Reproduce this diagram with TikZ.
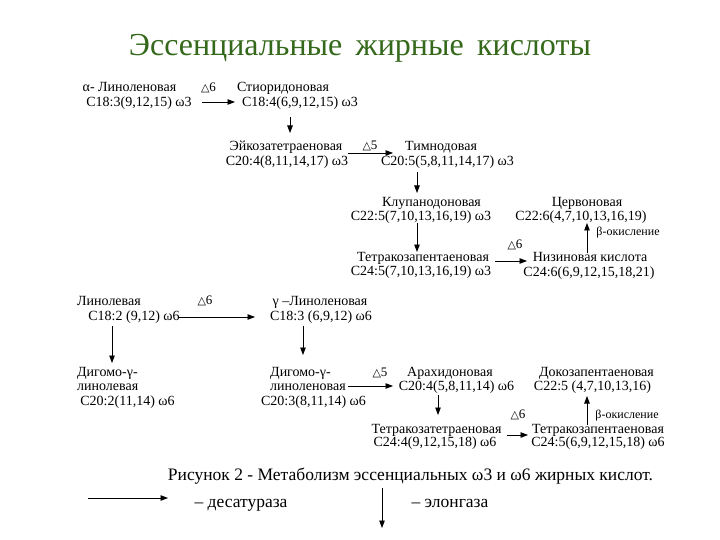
\documentclass[tikz,border=0pt]{standalone}
\usepackage{fontspec}
\setmainfont{Liberation Serif}
\newfontfamily\djv{DejaVu Sans}
\usetikzlibrary{arrows.meta}
\definecolor{titlegreen}{RGB}{52,104,26}
\newcommand{\tri}{{\djv\fontsize{11}{12}\selectfont △}}
\tikzset{
  tx/.style={inner sep=0pt, font=\fontsize{14}{16}\selectfont, text height=10.5pt, text depth=3.5pt},
  txl/.style={tx, anchor=west},
  dl/.style={inner sep=0pt, font=\fontsize{13}{14}\selectfont},
  lg/.style={inner sep=0pt, font=\fontsize{17.5}{20}\selectfont, text height=12.5pt, text depth=4.5pt},
  arr/.style={-{Triangle[length=7.5pt,width=5.5pt]}, line width=0.8pt},
}
\begin{document}
\begin{tikzpicture}[x=1pt,y=-1pt]
\useasboundingbox (0,0) rectangle (720,540);
% title
\node[inner sep=0pt, anchor=base, text=titlegreen, font=\fontsize{32}{36}\selectfont] (title) at (360,56) {Эссенциальные\, жирные\, кислоты};

% ---- omega-3 ----
\node[tx] (n1) at (129.5,88) {α- Линоленовая};
\node[tx] (f1) at (139,103) {C18:3(9,12,15) ω3};
\node[dl] (d1) at (208.5,88) {\tri6};
\node[tx] (n2) at (283,88) {Стиоридоновая};
\node[tx] (f2) at (300,103) {C18:4(6,9,12,15) ω3};

\node[tx] (n3) at (286,147) {Эйкозатетраеновая};
\node[tx] (f3) at (287,162) {C20:4(8,11,14,17) ω3};
\node[dl] (d2) at (370,146) {\tri5};
\node[tx] (n4) at (441,147) {Тимнодовая};
\node[tx] (f4) at (447.5,162) {C20:5(5,8,11,14,17) ω3};

\node[tx] (n5) at (431.5,203) {Клупанодоновая};
\node[tx] (f5) at (421,217) {C22:5(7,10,13,16,19) ω3};
\node[tx] (n6) at (423,258) {Тетракозапентаеновая};
\node[tx] (f6) at (421,272) {C24:5(7,10,13,16,19) ω3};
\node[dl] (d3) at (515,245) {\tri6};
\node[tx] (n7) at (590,258) {Низиновая кислота};
\node[tx] (f7) at (589,273) {C24:6(6,9,12,15,18,21)};
\node[tx] (n8) at (587,203) {Цервоновая};
\node[tx] (f8) at (581,217) {C22:6(4,7,10,13,16,19)};
\node[tx, font=\fontsize{12}{14}\selectfont] (b1) at (628,232) {β-окисление};

\draw[arr] ([xshift=63pt,yshift=1pt]f1.center) -- ([xshift=-65pt,yshift=1pt]f2.center);
\draw[arr] ([xshift=-10pt,yshift=-14pt]f2.center) -- ([xshift=4pt,yshift=14pt]n3.center);
\draw[arr] ([xshift=61pt,yshift=9pt]f3.center) -- ([xshift=-54.5pt,yshift=9pt]f4.center);
\draw[arr] ([xshift=-30.5pt,yshift=-10pt]f4.center) -- ([xshift=-14.5pt,yshift=10pt]n5.center);
\draw[arr] ([xshift=-4pt,yshift=-6pt]f5.center) -- ([xshift=-6pt,yshift=6pt]n6.center);
\draw[arr] ([xshift=72pt,yshift=-3pt]n6.center) -- ([xshift=-63pt,yshift=-3pt]n7.center);
\draw[arr] ([xshift=-3pt,yshift=5pt]n7.center) -- ([xshift=6pt,yshift=-6pt]f8.center);

% ---- omega-6 ----
\node[tx] (n9) at (109,302) {Линолевая};
\node[tx] (f9) at (134,317) {C18:2 (9,12) ω6};
\node[dl] (d4) at (205,301) {\tri6};
\node[tx] (n10) at (320,302) {γ –Линоленовая};
\node[tx] (f10) at (321,317) {C18:3 (6,9,12) ω6};

\node[txl] (n11a) at (77,373) {Дигомо-γ-};
\node[txl] (n11b) at (77,387) {линолевая};
\node[tx] (f11) at (127.5,402) {C20:2(11,14) ω6};

\node[txl] (n12a) at (270,373) {Дигомо-γ-};
\node[txl] (n12b) at (270,387) {линоленовая};
\node[tx] (f12) at (313.5,402) {C20:3(8,11,14) ω6};
\node[dl] (d5) at (380,373) {\tri5};

\node[tx] (n13) at (450,373) {Арахидоновая};
\node[tx] (f13) at (456.5,387) {C20:4(5,8,11,14) ω6};
\node[tx] (n14) at (436.5,430) {Тетракозатетраеновая};
\node[tx] (f14) at (435,443) {C24:4(9,12,15,18) ω6};
\node[dl] (d6) at (518,415) {\tri6};
\node[tx] (n15) at (598,430) {Тетракозапентаеновая};
\node[tx] (f15) at (598,443) {C24:5(6,9,12,15,18) ω6};
\node[tx] (n16) at (596.5,373) {Докозапентаеновая};
\node[tx] (f16) at (592.5,387) {C22:5 (4,7,10,13,16)};
\node[tx, font=\fontsize{12}{14}\selectfont] (b2) at (627,415) {β-окисление};

\draw[arr] ([xshift=44pt]f9.center) -- ([xshift=-66pt]f10.center);
\draw[arr] ([xshift=-22pt,yshift=-9pt]f9.center) -- ([xshift=35pt,yshift=10pt]n11a.west);
\draw[arr] ([xshift=-18pt,yshift=-9pt]f10.center) -- ([xshift=33pt,yshift=18pt]n12a.west);
\draw[arr] ([xshift=34.5pt,yshift=16pt]f12.center) -- ([xshift=-63.5pt,yshift=1pt]f13.center);
\draw[arr] ([xshift=-18.5pt,yshift=-8pt]f13.center) -- ([xshift=1.5pt,yshift=15pt]n14.center);
\draw[arr] ([xshift=72pt,yshift=8pt]f14.center) -- ([xshift=-70pt,yshift=8pt]f15.center);
\draw[arr] ([xshift=-11pt,yshift=5pt]n15.center) -- ([xshift=-5.5pt,yshift=-9pt]f16.center);

% ---- caption and legend ----
\node[lg] (cap) at (410.5,476) {Рисунок 2 - Метаболизм эссенциальных ω3 и ω6 жирных кислот.};
\coordinate (la) at (88,498);
\coordinate (lb) at (168,498);
\draw[arr] (la) -- (lb);
\node[lg] (ld) at (241,503) {– десатураза};
\coordinate (lc) at (382,488);
\coordinate (le) at (382,528);
\draw[arr] (lc) -- (le);
\node[lg] (lel) at (450,503) {– элонгаза};
\end{tikzpicture}
\end{document}
